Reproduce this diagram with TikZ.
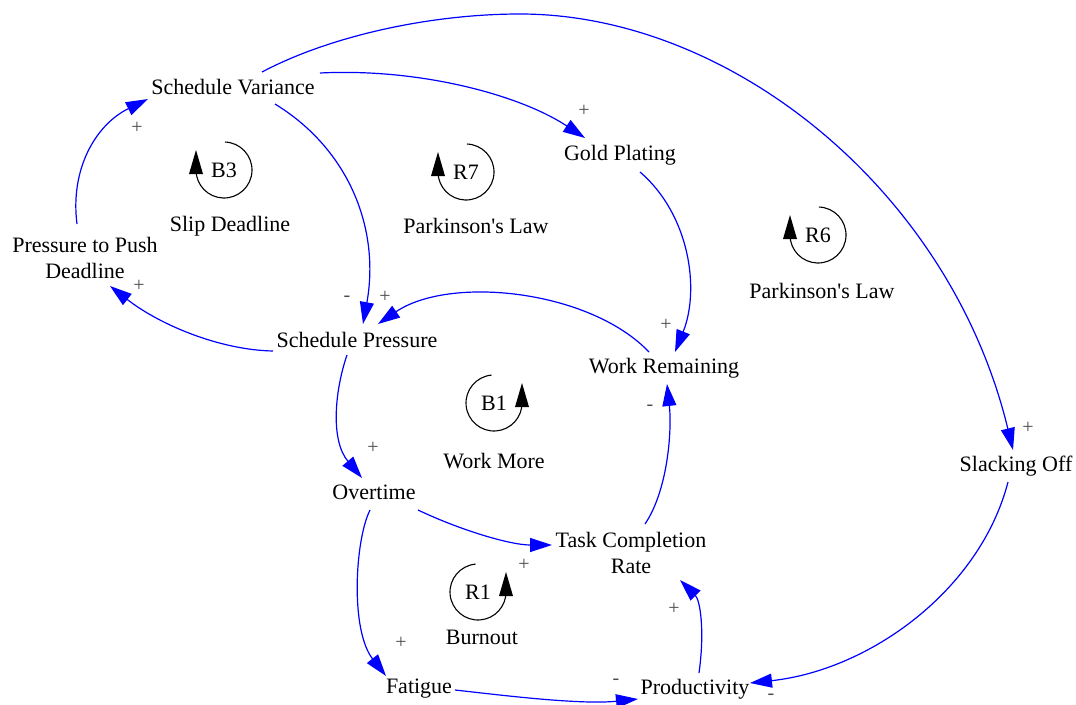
\documentclass[tikz,border=0pt]{standalone}
\usepackage{fontspec}
\setmainfont{Liberation Serif}
\usetikzlibrary{arrows.meta,calc}

% loop marker: circle arc with an upward arrowhead on the left side
\newcommand\cldloopleft[4]{%
  \draw[loopline] (#2,#3) ++(-88:28) arc[start angle=-88,end angle=180,radius=28];
  \fill ($(#2,#3)+(-35,4)$) -- ($(#2,#3)+(-21,4)$) -- ($(#2,#3)+(-28,-20)$) -- cycle;
  \node[var] (#1) at (#2,#3) {#4};}
% loop marker: circle arc with an upward arrowhead on the right side
\newcommand\cldloopright[4]{%
  \draw[loopline] (#2,#3) ++(-95:28) arc[start angle=-95,end angle=-360,radius=28];
  \fill ($(#2,#3)+(21,4)$) -- ($(#2,#3)+(35,4)$) -- ($(#2,#3)+(28,-20)$) -- cycle;
  \node[var] (#1) at (#2,#3) {#4};}

\begin{document}
\begin{tikzpicture}[x=1pt,y=-1pt,
  var/.style={inner sep=0pt,align=center,font=\fontsize{22}{26}\selectfont},
  link/.style={draw={rgb,255:red,0;green,0;blue,255},line width=1.2pt,
    -{Triangle[length=22pt,width=14pt]}},
  sign/.style={inner sep=0pt,text=black!70,font=\fontsize{20}{22}\selectfont},
  loopline/.style={draw=black,line width=1.1pt}]
\useasboundingbox (0,0) rectangle (1076,704);

% variables
\node[var] (SV)  at (233,87)  {Schedule Variance};
\node[var] (GP)  at (620,155) {Gold Plating};
\node[var] (PPD) at (85,258)  {Pressure to Push\\Deadline};
\node[var] (SP)  at (357,340) {Schedule Pressure};
\node[var] (WR)  at (664,368) {Work Remaining};
\node[var] (OT)  at (374,492) {Overtime};
\node[var] (TCR) at (631,553) {Task Completion\\Rate};
\node[var] (SO)  at (1016,466) {Slacking Off};
\node[var] (FA)  at (419,689) {Fatigue};
\node[var] (PR)  at (695,689) {Productivity};

% causal links
\draw[link] ([shift={(87,-14)}]SV.center) .. controls (420,68) and (520,95) .. ([shift={(-35,-17)}]GP.center);
\draw[link] ([shift={(42,17)}]SV.center) .. controls (350,150) and (380,230) .. ([shift={(6,-16)}]SP.center);
\draw[link] ([shift={(29,-15)}]SV.center) .. controls (330,36) and (430,14) .. (520,14)
   .. controls (730,14) and (950,190) .. ([shift={(-3,-16)}]SO.center);
\draw[link] ([shift={(-8,-34)}]PPD.center) .. controls (70,170) and (95,125) .. ([shift={(-85,12)}]SV.center);
\draw[link] ([shift={(-84,11)}]SP.center) .. controls (220,350) and (160,325) .. ([shift={(25,28)}]PPD.center);
\draw[link] ([shift={(-15,-16)}]WR.center) .. controls (590,290) and (450,275) .. ([shift={(21,-16)}]SP.center);
\draw[link] ([shift={(20,17)}]GP.center) .. controls (690,215) and (700,290) .. ([shift={(11,-16)}]WR.center);
\draw[link] ([shift={(-10,15)}]SP.center) .. controls (335,390) and (330,440) .. ([shift={(-12,-14)}]OT.center);
\draw[link] ([shift={(44,18)}]OT.center) .. controls (460,530) and (510,545) .. ([shift={(-79,-8)}]TCR.center);
\draw[link] ([shift={(14,-29)}]TCR.center) .. controls (668,490) and (672,430) .. ([shift={(3,16)}]WR.center);
\draw[link] ([shift={(-4,18)}]OT.center) .. controls (355,540) and (350,630) .. ([shift={(-33,-13)}]FA.center);
\draw[link] ([shift={(36,1)}]FA.center) .. controls (500,695) and (580,705) .. ([shift={(-57,10)}]PR.center);
\draw[link] ([shift={(4,-16)}]PR.center) .. controls (705,630) and (700,600) .. ([shift={(49,27)}]TCR.center);
\draw[link] ([shift={(-8,16)}]SO.center) .. controls (980,590) and (870,670) .. ([shift={(55,-6)}]PR.center);

% polarities
\node[sign] (s1)  at (584,111) {+};
\node[sign] (s2)  at (347,299) {-};
\node[sign] (s3)  at (1028,428) {+};
\node[sign] (s4)  at (137,128) {+};
\node[sign] (s5)  at (139,286) {+};
\node[sign] (s6)  at (385,297) {+};
\node[sign] (s7)  at (666,325) {+};
\node[sign] (s8)  at (373,448) {+};
\node[sign] (s9)  at (524,565) {+};
\node[sign] (s10) at (650,408) {-};
\node[sign] (s11) at (401,643) {+};
\node[sign] (s12) at (616,682) {-};
\node[sign] (s13) at (674,609) {+};
\node[sign,text height=6pt,text depth=0pt] (s14) at (771,696) {-};

% feedback loops
\cldloopleft{B3}{224}{170}{B3}
\node[var] (B3n) at (230,226) {Slip Deadline};
\cldloopleft{R7}{466}{172}{R7}
\node[var] (R7n) at (476,226) {Parkinson\textquotesingle s Law};
\cldloopleft{R6}{818}{235}{R6}
\node[var] (R6n) at (822,291) {Parkinson\textquotesingle s Law};
\cldloopright{B1}{494}{403}{B1}
\node[var] (B1n) at (494,461) {Work More};
\cldloopright{R1}{478}{592}{R1}
\node[var] (R1n) at (482,637) {Burnout};
\end{tikzpicture}
\end{document}
